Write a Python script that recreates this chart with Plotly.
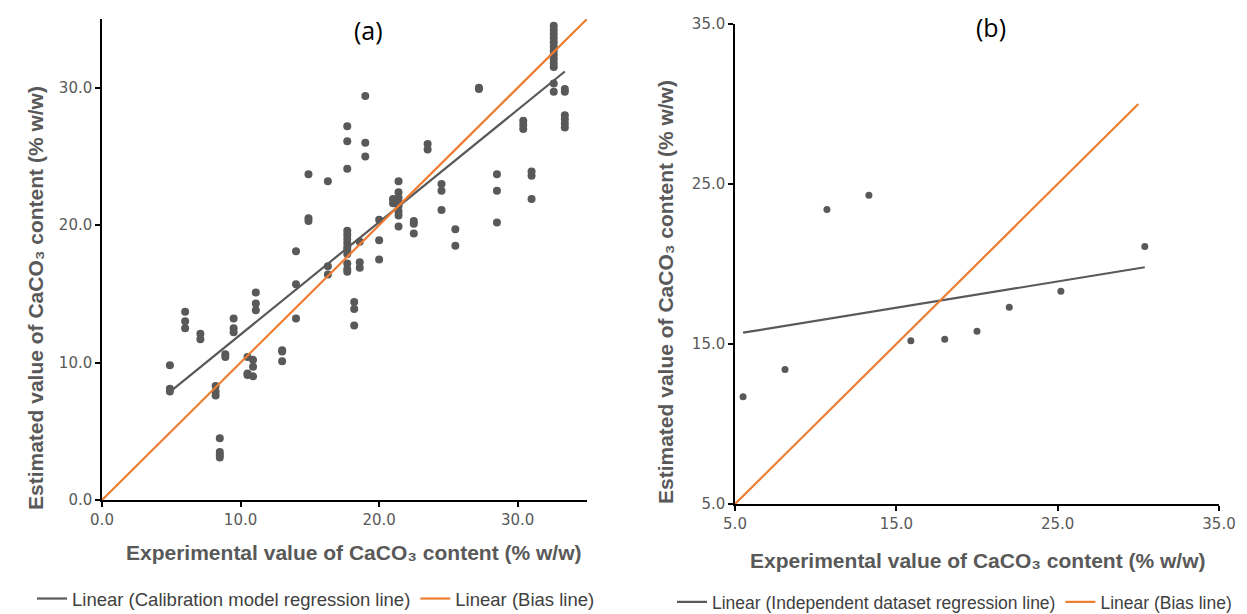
import plotly.graph_objects as go
import numpy as np

# ---------------- Panel (a): calibration data ----------------
calib_x = [4.9, 4.9, 4.9,
           6.0, 6.0, 6.0,
           7.1, 7.1,
           8.2, 8.2, 8.2,
           8.5, 8.5, 8.5, 8.5,
           8.9, 8.9,
           9.5, 9.5, 9.5,
           10.5, 10.5, 10.5,
           10.9, 10.9, 10.9,
           11.1, 11.1, 11.1,
           13.0, 13.0, 13.0,
           14.0, 14.0, 14.0,
           14.9, 14.9, 14.9,
           16.3, 16.3, 16.3,
           17.7, 17.7, 17.7, 17.7, 17.7, 17.7, 17.7, 17.7, 17.7, 17.7, 17.7, 17.7, 17.7,
           18.2, 18.2, 18.2,
           18.6, 18.6, 18.6,
           19.0, 19.0, 19.0,
           20.0, 20.0, 20.0,
           21.0, 21.0, 21.4, 21.4, 21.4, 21.4, 21.4, 21.4, 21.4, 21.4,
           22.5, 22.5, 22.5,
           23.5, 23.5,
           24.5, 24.5, 24.5,
           25.5, 25.5,
           27.2, 27.2,
           28.5, 28.5, 28.5,
           30.4, 30.4, 30.4,
           31.0, 31.0, 31.0,
           32.6, 32.6, 32.6, 32.6, 32.6, 32.6, 32.6, 32.6, 32.6, 32.6, 32.6, 32.6, 32.6,
           33.4, 33.4, 33.4, 33.4, 33.4, 33.4]
calib_y = [9.8, 8.1, 7.9,
           13.7, 13.0, 12.5,
           12.1, 11.7,
           8.3, 7.9, 7.6,
           4.5, 3.5, 3.3, 3.1,
           10.6, 10.4,
           13.2, 12.5, 12.2,
           10.4, 9.2, 9.1,
           10.2, 9.7, 9.0,
           15.1, 14.3, 13.8,
           10.9, 10.8, 10.1,
           18.1, 15.7, 13.2,
           23.7, 20.5, 20.3,
           23.2, 17.0, 16.4,
           27.2, 26.1, 24.1, 19.6, 19.3, 19.0, 18.7, 18.4, 18.2, 17.9, 17.2, 16.8, 16.6,
           14.4, 13.9, 12.7,
           18.8, 17.3, 16.9,
           29.4, 26.0, 25.0,
           20.4, 18.9, 17.5,
           21.9, 21.6, 23.2, 22.4, 22.0, 21.7, 21.4, 21.0, 20.7, 19.9,
           20.3, 20.1, 19.4,
           25.9, 25.5,
           23.0, 22.5, 21.1,
           19.7, 18.5,
           30.0, 29.9,
           23.7, 22.5, 20.2,
           27.6, 27.3, 27.0,
           23.9, 23.6, 21.9,
           34.5, 34.2, 33.9, 33.6, 33.3, 33.0, 32.7, 32.4, 32.1, 31.8, 31.5, 30.3, 29.7,
           29.9, 29.7, 28.0, 27.7, 27.4, 27.1]

# regression line (a): slope, intercept and x extent
calib_fit = [0.818, 3.86]
calib_fit_x = [4.9, 33.4]
bias_a_x = [0.0, 35.0]

# ---------------- Panel (b): independent dataset ----------------
indep_x = [5.5, 8.1, 10.7, 13.3, 15.9, 18.0, 20.0, 22.0, 25.2, 30.4]
indep_y = [11.7, 13.4, 23.4, 24.3, 15.2, 15.3, 15.8, 17.3, 18.3, 21.1]
indep_fit_x = [5.5, 30.4]
bias_b_x = [5.0, 30.0]

grey = "#595959"
orange = "#ED7D31"
textfam = "Liberation Sans, Arial, sans-serif"
tickfont = dict(family="DejaVu Sans, Verdana, sans-serif", size=15, color=grey)

W, H = 1247, 614

fig = go.Figure()

# panel a
fig.add_trace(go.Scatter(x=calib_x, y=calib_y, mode="markers",
                         marker=dict(color=grey, size=8), showlegend=False,
                         xaxis="x", yaxis="y"))
fx = np.array(calib_fit_x)
fig.add_trace(go.Scatter(x=fx, y=calib_fit[0] * fx + calib_fit[1], mode="lines",
                         line=dict(color=grey, width=2.2),
                         name="Linear (Calibration model regression line)",
                         legend="legend", xaxis="x", yaxis="y"))
fig.add_trace(go.Scatter(x=bias_a_x, y=bias_a_x, mode="lines",
                         line=dict(color=orange, width=2.2),
                         name="Linear (Bias line)", legend="legend",
                         xaxis="x", yaxis="y"))

# panel b
fig.add_trace(go.Scatter(x=indep_x, y=indep_y, mode="markers",
                         marker=dict(color=grey, size=7), showlegend=False,
                         xaxis="x2", yaxis="y2"))
coef = np.polyfit(indep_x, indep_y, 1)
ix = np.array(indep_fit_x)
fig.add_trace(go.Scatter(x=ix, y=coef[0] * ix + coef[1], mode="lines",
                         line=dict(color=grey, width=2.2),
                         name="Linear (Independent dataset regression line)",
                         legend="legend2", xaxis="x2", yaxis="y2"))
fig.add_trace(go.Scatter(x=bias_b_x, y=bias_b_x, mode="lines",
                         line=dict(color=orange, width=2.2),
                         name="Linear (Bias line)", legend="legend2",
                         xaxis="x2", yaxis="y2"))

axis_common = dict(showline=True, linecolor="black", linewidth=1.5,
                   ticks="outside", ticklen=5, tickcolor="black", tickwidth=1.5,
                   showgrid=False, zeroline=False, tickformat=".1f",
                   tickfont=tickfont, automargin=False)

legend_common = dict(orientation="h", xanchor="left", yanchor="middle",
                     xref="container", yref="container",
                     bgcolor="rgba(0,0,0,0)", itemwidth=30, tracegroupgap=0)

fig.update_layout(
    template="none",
    width=W, height=H,
    margin=dict(l=0, r=0, t=0, b=0, autoexpand=False),
    paper_bgcolor="white", plot_bgcolor="white",
    xaxis=dict(domain=[102 / W, 587 / W], range=[0, 35], tickvals=[0, 10, 20, 30],
               anchor="y", **axis_common),
    yaxis=dict(domain=[(H - 500) / H, (H - 19) / H], range=[0, 35],
               tickvals=[0, 10, 20, 30], anchor="x", **axis_common),
    xaxis2=dict(domain=[735 / W, 1219 / W], range=[5, 35], tickvals=[5, 15, 25, 35],
                anchor="y2", **axis_common),
    yaxis2=dict(domain=[(H - 504) / H, (H - 24) / H], range=[5, 35],
                tickvals=[5, 15, 25, 35], anchor="x2", **axis_common),
    legend=dict(x=32 / W, y=(H - 599) / H,
                font=dict(family=textfam, size=18.5, color="#404040"), **legend_common),
    legend2=dict(x=672 / W, y=(H - 602) / H,
                 font=dict(family=textfam, size=17.5, color="#404040"), **legend_common),
)

title_font = dict(family=textfam, size=21, color=grey)
ann = [
    dict(text="(a)", x=368 / W, y=(H - 30) / H, font=dict(family="Open Sans, sans-serif", size=25, color="black")),
    dict(text="(b)", x=991 / W, y=(H - 27) / H, font=dict(family="Open Sans, sans-serif", size=25, color="black")),
    dict(text="<b>Experimental value of CaCO₃ content (% w/w)</b>", x=353 / W, y=(H - 552) / H, font=title_font),
    dict(text="<b>Experimental value of CaCO₃ content (% w/w)</b>", x=977 / W, y=(H - 560) / H, font=title_font),
    dict(text="<b>Estimated value of CaCO₃ content (% w/w)</b>", x=35 / W, y=(H - 298) / H, font=title_font, textangle=-90),
    dict(text="<b>Estimated value of CaCO₃ content (% w/w)</b>", x=665 / W, y=(H - 292) / H, font=title_font, textangle=-90),
]
for a in ann:
    fig.add_annotation(xref="paper", yref="paper", showarrow=False,
                       xanchor="center", yanchor="middle", **a)

fig.write_html("out.html")
